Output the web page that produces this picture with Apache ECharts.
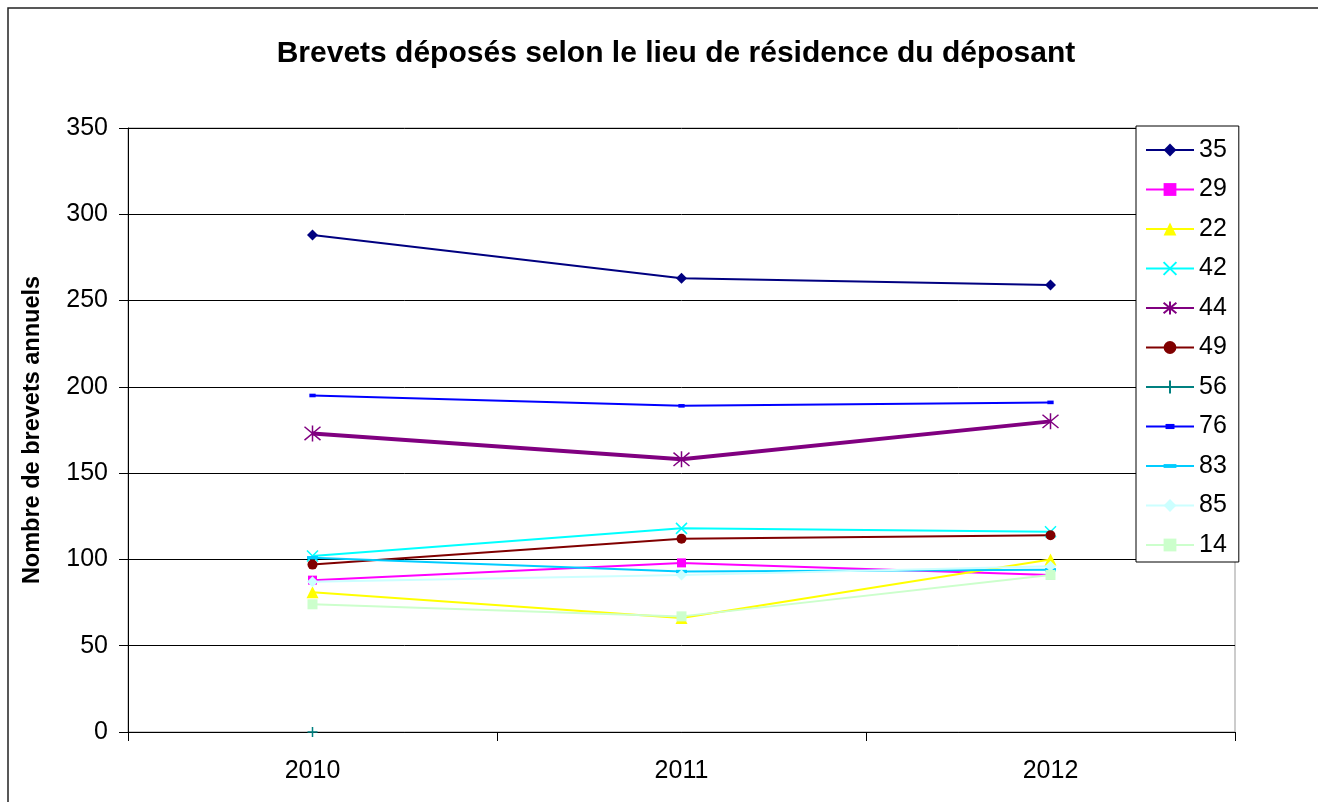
<!DOCTYPE html>
<html>
<head>
<meta charset="utf-8">
<script src="https://cdn.jsdelivr.net/npm/echarts@6/dist/echarts.min.js"></script>
<style>
html,body{margin:0;padding:0;background:#fff;}
#chart{width:1318px;height:802px;}
</style>
</head>
<body>
<div id="chart"></div>
<script>
const years = ['2010', '2011', '2012'];
const seriesNames = ['35', '29', '22', '42', '44', '49', '56', '76', '83', '85', '14'];
const v35 = [288, 263, 259];
const v29 = [88, 98, 91];
const v22 = [81, 66, 100];
const v42 = [102, 118, 116];
const v44 = [173, 158, 180];
const v49 = [97, 112, 114];
const v56 = [0, null, null];
const v76 = [195, 189, 191];
const v83 = [101, 93, 94];
const v85 = [87, 91, 96];
const v14 = [74, 67, 91];
const yTicks = [0, 50, 100, 150, 200, 250, 300, 350];

const values = [v35, v29, v22, v42, v44, v49, v56, v76, v83, v85, v14];
const styles = [
  {color:'#000080', symbol:'diamond', size:11, width:2},
  {color:'#FF00FF', symbol:'rect', size:9, width:2},
  {color:'#FFFF00', symbol:'triangle', size:12, width:2},
  {color:'#00FFFF', symbol:'path://M0,0L10,10M10,0L0,10', size:11, width:2, stroke:1.5},
  {color:'#800080', symbol:'path://M0,0L10,10M10,0L0,10M5,-1L5,11', size:16, width:4, stroke:1.5},
  {color:'#800000', symbol:'circle', size:10, width:2},
  {color:'#008080', symbol:'path://M5,0L5,10M0,5L10,5', size:10, width:2, stroke:1.5},
  {color:'#0000FF', symbol:'path://M0,0M10,10M1.5,3H8.5V7H1.5Z', size:9, width:2},
  {color:'#00CCFF', symbol:'path://M0,0M10,10M0,3.5H10V6.5H0Z', size:11, width:2},
  {color:'#CCFFFF', symbol:'diamond', size:11, width:2},
  {color:'#CCFFCC', symbol:'rect', size:10, width:2}
];

const series = seriesNames.map((n, i) => {
  const s = styles[i];
  const it = {color: s.color};
  if (s.stroke) { it.borderColor = s.color; it.borderWidth = s.stroke; }
  return {
    name: n,
    type: 'line',
    data: values[i],
    symbol: s.symbol,
    symbolSize: s.size,
    showSymbol: true,
    connectNulls: false,
    lineStyle: {color: s.color, width: s.width},
    itemStyle: it,
    emphasis: {disabled: true},
    animation: false
  };
});

const chart = echarts.init(document.getElementById('chart'), null, {renderer: 'canvas'});
const font = '"Liberation Sans", Arial, sans-serif';
chart.setOption({
  animation: false,
  backgroundColor: '#fff',
  textStyle: {fontFamily: font},
  title: {
    text: 'Brevets déposés selon le lieu de résidence du déposant',
    left: 671, textAlign: 'center', top: 34,
    textStyle: {fontFamily: font, fontSize: 30, fontWeight: 'bold', color: '#000'}
  },
  graphic: [{
    type: 'rect', z: -1,
    shape: {x: 8, y: 8, width: 2000, height: 2000},
    style: {fill: 'none', stroke: '#222', lineWidth: 1.5}
  }],
  grid: {left: 128, right: 83, top: 128, bottom: 70, show: true, borderColor: '#999', borderWidth: 1, backgroundColor: 'transparent'},
  legend: {
    orient: 'vertical',
    left: 1136, top: 126,
    padding: [11.5, 12, 4.5, 9],
    itemWidth: 48, itemHeight: 16, itemGap: 14.5,
    backgroundColor: '#fff',
    borderColor: '#000', borderWidth: 1,
    textStyle: {fontFamily: font, fontSize: 25, color: '#000', lineHeight: 25},
    data: seriesNames
  },
  xAxis: {
    type: 'category',
    data: years,
    boundaryGap: true,
    axisLine: {lineStyle: {color: '#000', width: 1}},
    axisTick: {show: true, length: 9, lineStyle: {color: '#000'}},
    axisLabel: {color: '#000', fontSize: 25, fontFamily: font, margin: 27},
    splitLine: {show: false}
  },
  yAxis: {
    type: 'value',
    min: yTicks[0], max: yTicks[yTicks.length - 1], interval: 50,
    name: 'Nombre de brevets annuels',
    nameLocation: 'middle', nameGap: 83,
    nameTextStyle: {fontFamily: font, fontSize: 23.5, fontWeight: 'bold', color: '#000'},
    axisLine: {show: true, lineStyle: {color: '#000', width: 1}},
    axisTick: {show: true, length: 9, lineStyle: {color: '#000'}},
    axisLabel: {color: '#000', fontSize: 25, fontFamily: font, margin: 20},
    splitLine: {show: true, lineStyle: {color: '#000', width: 1}}
  },
  series: series
});
</script>
</body>
</html>
